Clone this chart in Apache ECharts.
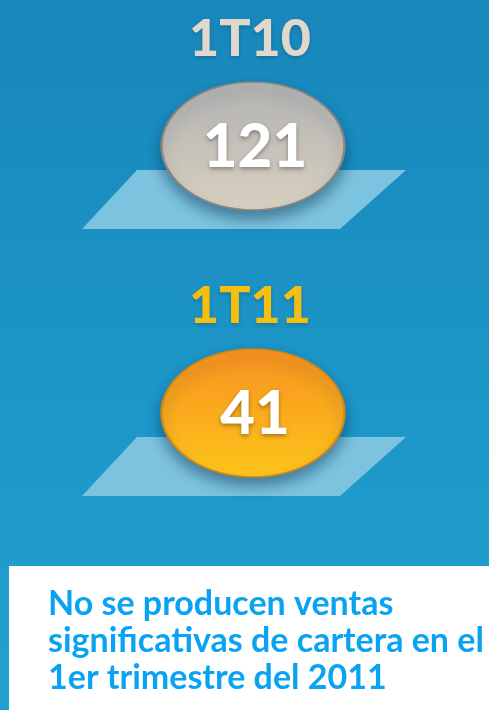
<!DOCTYPE html>
<html>
<head>
<meta charset="utf-8">
<script src="https://cdn.jsdelivr.net/npm/echarts@6/dist/echarts.min.js"></script>
<style>
  html, body { margin: 0; padding: 0; }
  #main { width: 489px; height: 710px; }
</style>
</head>
<body>
<div id="main"></div>
<script>
// periodos y cifras
var periodos = ['1T10', '1T11'];
var ventas = [121, 41];
var colorTitulo = ['#e0d8cc', '#f5bf10'];
// degradados de cada elipse: arriba, abajo, borde
var coloresElipse = [
  ['#b2b2b2', '#d8d0c0', '#8a8680'],
  ['#f7911f', '#fdc61b', '#d4880f']
];
var nota = ['No se producen ventas', 'significativas de cartera en el', '1er trimestre del 2011'];

var chart = echarts.init(document.getElementById('main'));

var datos = periodos.map(function (p, i) {
  return {
    value: [0.5, p, ventas[i]],
    itemStyle: {
      color: new echarts.graphic.LinearGradient(0, 0, 0, 1, [
        { offset: 0, color: coloresElipse[i][0] },
        { offset: 1, color: coloresElipse[i][1] }
      ]),
      borderColor: coloresElipse[i][2],
      borderWidth: 2
    }
  };
});

var option = {
  backgroundColor: new echarts.graphic.LinearGradient(0, 0, 0, 1, [
    { offset: 0, color: '#1887bb' },
    { offset: 0.6, color: '#1d97c9' },
    { offset: 1, color: '#22a1d0' }
  ]),
  animation: false,
  grid: { left: 17, right: 0, top: 12.5, height: 534 },
  xAxis: { type: 'value', min: 0, max: 1, show: false },
  yAxis: { type: 'category', data: periodos, inverse: true, show: false },
  series: [
    {
      // plano bajo cada elipse
      type: 'custom',
      z: 1,
      data: periodos.map(function (p) { return [0.5, p]; }),
      renderItem: function (params, api) {
        var c = api.coord([api.value(0), api.value(1)]);
        return {
          type: 'polygon',
          shape: {
            points: [
              [c[0] - 116, c[1] + 24],
              [c[0] + 153, c[1] + 24],
              [c[0] + 87, c[1] + 83],
              [c[0] - 171, c[1] + 83]
            ]
          },
          style: { fill: '#7cc3e0' }
        };
      }
    },
    {
      type: 'scatter',
      z: 3,
      symbol: 'circle',
      symbolSize: [183, 128],
      data: datos,
      itemStyle: {
        opacity: 1,
        shadowColor: 'rgba(0,40,70,0.45)',
        shadowBlur: 14,
        shadowOffsetY: 8
      },
      label: {
        show: true,
        position: 'inside',
        offset: [2, 2],
        formatter: function (p) { return p.value[2]; },
        color: '#ffffff',
        fontFamily: 'Lato',
        fontWeight: 900,
        fontSize: 60,
        textShadowColor: 'rgba(0,0,0,0.35)',
        textShadowBlur: 4,
        textShadowOffsetY: 2
      }
    },
    {
      // titulo de cada periodo
      type: 'scatter',
      z: 4,
      symbolSize: 1,
      itemStyle: { color: 'rgba(0,0,0,0)', opacity: 1 },
      data: periodos.map(function (p, i) {
        return { value: [0.5, p], label: { color: colorTitulo[i] } };
      }),
      label: {
        show: true,
        position: 'inside',
        offset: [-3, -107],
        formatter: function (p) { return p.value[1]; },
        fontFamily: 'Lato',
        fontWeight: 900,
        fontSize: 52,
        textShadowColor: 'rgba(0,30,60,0.25)',
        textShadowBlur: 4,
        textShadowOffsetY: 2
      }
    }
  ],
  graphic: [
    {
      type: 'rect',
      shape: { x: 9, y: 566, width: 480, height: 144 },
      style: { fill: '#ffffff' }
    },
    {
      type: 'text',
      left: 48,
      top: 586,
      style: {
        text: nota.join('\n'),
        fill: '#0aa3f2',
        font: 'bold 34px Lato',
        lineHeight: 37
      }
    }
  ]
};

chart.setOption(option);
</script>
</body>
</html>
